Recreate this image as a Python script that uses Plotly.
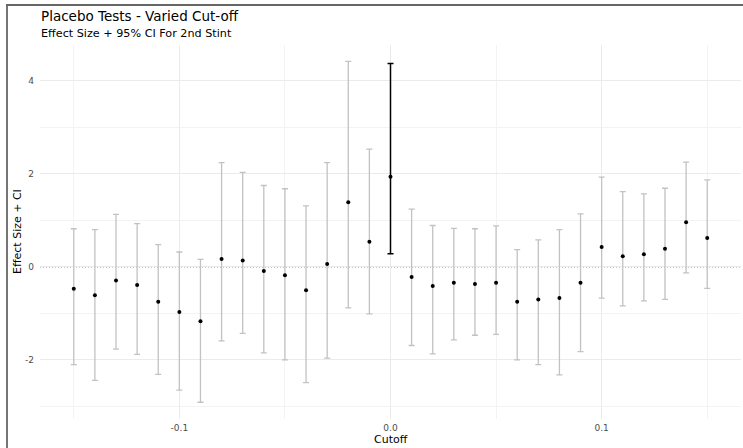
import plotly.graph_objects as go

cutoff = [-0.15, -0.14, -0.13, -0.12, -0.11, -0.10, -0.09, -0.08, -0.07, -0.06, -0.05,
          -0.04, -0.03, -0.02, -0.01, 0.00, 0.01, 0.02, 0.03, 0.04, 0.05,
          0.06, 0.07, 0.08, 0.09, 0.10, 0.11, 0.12, 0.13, 0.14, 0.15]
effect = [-0.47, -0.61, -0.29, -0.39, -0.75, -0.97, -1.17, 0.17, 0.14, -0.09, -0.18,
          -0.50, 0.06, 1.39, 0.54, 1.94, -0.22, -0.41, -0.34, -0.37, -0.34,
          -0.75, -0.70, -0.67, -0.34, 0.43, 0.23, 0.27, 0.39, 0.96, 0.62]
upper = [0.82, 0.80, 1.13, 0.93, 0.48, 0.32, 0.16, 2.24, 2.03, 1.75, 1.68,
         1.31, 2.24, 4.42, 2.53, 4.37, 1.24, 0.89, 0.83, 0.82, 0.88,
         0.37, 0.58, 0.80, 1.14, 1.93, 1.62, 1.57, 1.69, 2.25, 1.87]
lower = [-2.10, -2.44, -1.77, -1.88, -2.31, -2.65, -2.91, -1.59, -1.43, -1.85, -2.00,
         -2.49, -1.96, -0.88, -1.01, 0.28, -1.69, -1.87, -1.57, -1.47, -1.45,
         -2.00, -2.10, -2.32, -1.82, -0.67, -0.84, -0.73, -0.70, -0.13, -0.46]

x_tick_vals = [-0.1, 0.0, 0.1]
x_tick_text = ["-0.1", "0.0", "0.1"]
y_tick_vals = [-2, 0, 2, 4]
y_tick_text = ["-2", "0", "2", "4"]

real_cutoff = 0.0

grey_idx = [i for i, c in enumerate(cutoff) if abs(c - real_cutoff) > 1e-9]
main_idx = [i for i, c in enumerate(cutoff) if abs(c - real_cutoff) <= 1e-9]


def sub(arr, idx):
    return [arr[i] for i in idx]


fig = go.Figure()

fig.add_trace(go.Scatter(
    x=sub(cutoff, grey_idx), y=sub(effect, grey_idx), mode="markers",
    marker=dict(color="black", size=4),
    error_y=dict(type="data", symmetric=False,
                 array=[upper[i] - effect[i] for i in grey_idx],
                 arrayminus=[effect[i] - lower[i] for i in grey_idx],
                 color="#c2c2c2", thickness=1.3, width=3),
    showlegend=False, hoverinfo="skip"))

fig.add_trace(go.Scatter(
    x=sub(cutoff, main_idx), y=sub(effect, main_idx), mode="markers",
    marker=dict(color="black", size=4),
    error_y=dict(type="data", symmetric=False,
                 array=[upper[i] - effect[i] for i in main_idx],
                 arrayminus=[effect[i] - lower[i] for i in main_idx],
                 color="black", thickness=1.5, width=3),
    showlegend=False, hoverinfo="skip"))

# zero reference line
fig.add_hline(y=0, line=dict(color="#8f8f8f", width=1.2, dash="1px,2px"), layer="below")

W, H = 743, 448
L, R, T, B = 40, 2, 45, 29
pw, ph = W - L - R, H - T - B


def px_x(p):
    return (p - L) / pw


def px_y(p):
    return (H - B - p) / ph


# outer border: left edge as a shape
fig.add_shape(type="line", xref="paper", yref="paper", layer="above",
              x0=px_x(7), x1=px_x(7), y0=px_y(470), y1=px_y(5),
              line=dict(color="#666666", width=1.8))

font_family = "DejaVu Sans"

annotations = [
    dict(text="Placebo Tests - Varied Cut-off", xref="paper", yref="paper",
         x=px_x(39), y=px_y(16), xanchor="left", yanchor="middle", showarrow=False,
         font=dict(size=13.5, family=font_family, color="black")),
    dict(text="Effect Size + 95% CI For 2nd Stint", xref="paper", yref="paper",
         x=px_x(39), y=px_y(33.5), xanchor="left", yanchor="middle", showarrow=False,
         font=dict(size=11.2, family=font_family, color="black")),
    dict(text="Cutoff", xref="paper", yref="paper",
         x=0.5 * (px_x(40) + px_x(W - R)), y=px_y(439), xanchor="center", yanchor="middle",
         showarrow=False, font=dict(size=11, family=font_family, color="black")),
    dict(text="Effect Size + CI", xref="paper", yref="paper",
         x=px_x(17), y=0.5, xanchor="center", yanchor="middle", textangle=-90,
         showarrow=False, font=dict(size=11, family=font_family, color="black")),
]

fig.update_layout(
    width=W, height=H,
    margin=dict(l=L, r=R, t=T, b=B, autoexpand=False),
    plot_bgcolor="white", paper_bgcolor="white",
    font=dict(family=font_family, color="black"),
    annotations=annotations,
    xaxis=dict(
        range=[-0.166, 0.166],
        tickvals=x_tick_vals, ticktext=x_tick_text,
        showgrid=True, gridcolor="#ebebeb", gridwidth=1,
        minor=dict(tickvals=[-0.15, -0.05, 0.05, 0.15], showgrid=True,
                   gridcolor="#f3f3f3", gridwidth=0.6),
        zeroline=False, showline=False, ticks="",
        tickfont=dict(size=9, color="#4d4d4d"),
        ticklabelstandoff=2, automargin=False,
    ),
    yaxis=dict(
        range=[-3.27, 4.77],
        tickvals=y_tick_vals, ticktext=y_tick_text,
        showgrid=True, gridcolor="#ebebeb", gridwidth=1,
        minor=dict(tickvals=[-3, -1, 1, 3], showgrid=True,
                   gridcolor="#f3f3f3", gridwidth=0.6),
        zeroline=False, showline=False, ticks="",
        tickfont=dict(size=9, color="#4d4d4d"),
        ticklabelstandoff=5, automargin=False,
    ),
)

post_js = (
    "document.body.style.margin='0';"
    "document.body.style.overflow='hidden';"
    "var bd=document.createElement('div');"
    "bd.style.position='absolute';bd.style.left='6px';bd.style.top='4px';"
    "bd.style.width='760px';bd.style.height='2px';"
    "bd.style.background='#666666';bd.style.pointerEvents='none';"
    "document.body.appendChild(bd);"
)

fig.write_html("out.html", config={"displayModeBar": False}, post_script=post_js)
